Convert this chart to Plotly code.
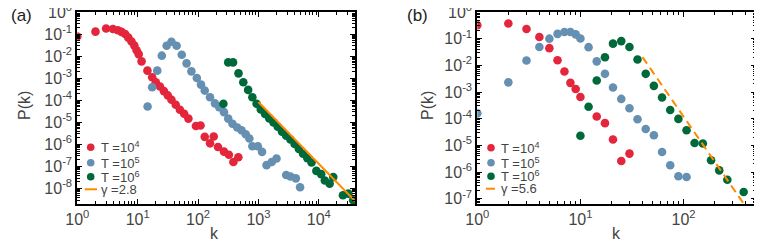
import plotly.graph_objects as go

# page body has an 8px margin, so the figure is sized to fill the rest of the window
OFF = 8
W, H = 762 - OFF, 244 - OFF

# ---------------- data: panel (a) ----------------
a_red_k = [1, 2, 3, 3.9, 4.7, 5.4, 6.2, 7.0, 7.9, 8.8, 9.6, 10.4, 11.6, 14.5, 17.4, 20, 23.4,
           27.2, 31.6, 36.3, 42.7, 50.1, 58.9, 69.2, 92.3, 110, 129, 158, 182, 214, 269, 324, 385, 465]
a_red_p = [0.078, 0.129, 0.178, 0.17, 0.148, 0.126, 0.1, 0.069, 0.046, 0.030, 0.0186, 0.0123,
           5.8e-3, 2.2e-3, 1.1e-3, 6.6e-4, 4.2e-4, 2.6e-4, 1.66e-4, 1.05e-4, 6.3e-5, 3.7e-5,
           2.45e-5, 1.48e-5, 6.8e-6, 7.2e-6, 2.2e-6, 1.12e-6, 2.3e-6, 7.6e-7, 4.7e-7, 3.4e-7, 1.6e-7, 2.6e-7]

a_blue_k = [14.6, 17.4, 21.1, 25.1, 30.2, 36.3, 44.2, 53.7, 64.6, 77.6, 95.5, 112, 129, 158, 191,
            224, 269, 316, 372, 447, 525, 617, 708, 794, 977, 1148, 1365, 1660, 1995, 2884, 3388, 4169, 4898]
a_blue_p = [5.2e-5, 3.9e-4, 2.2e-3, 0.0105, 0.0295, 0.0447, 0.0295, 0.0115, 4.7e-3, 2.04e-3,
            1.02e-3, 5.1e-4, 2.75e-4, 1.38e-4, 7.2e-5, 4.9e-5, 2.9e-5, 1.48e-5, 8.7e-6, 5.8e-6,
            4.4e-6, 2.9e-6, 1.86e-6, 8.3e-7, 8.3e-7, 4.6e-7, 1.15e-7, 1.6e-7, 2.3e-7, 4.1e-8,
            3.5e-8, 2.9e-8, 1.15e-8]

a_green_k = [263, 316, 380, 468, 562, 676, 794, 933, 1096, 1288, 1514, 1778, 2089, 2455, 2884,
             3388, 3981, 4677, 5495, 6457, 7586, 9120, 10960, 12590, 15140, 17380, 25120, 30900, 37150]
a_green_p = [6.9e-5, 5.2e-3, 5.2e-3, 1.66e-3, 6.6e-4, 2.95e-4, 1.38e-4, 6.9e-5, 3.8e-5, 2.4e-5,
             1.51e-5, 1.0e-5, 6.3e-6, 3.8e-6, 2.5e-6, 1.66e-6, 1.05e-6, 6.3e-7, 3.8e-7, 2.4e-7,
             1.51e-7, 6.3e-8, 4.5e-8, 2.3e-8, 1.66e-8, 3.3e-8, 5.0e-9, 5.9e-9, 2.95e-9]

a_fit_gamma = 2.8
a_fit_logc = 4.32
a_fit_k = [1000, 40000]

# ---------------- data: panel (b) ----------------
b_red_k = [1, 2, 3, 4, 5, 6, 7, 8, 9, 10, 14.4, 17.3, 20.7, 24.9, 29.9]
b_red_p = [0.32, 0.37, 0.23, 0.115, 0.044, 0.0155, 5.9e-3, 2.2e-3, 1.29e-3, 6.5e-4,
           1.2e-4, 6.8e-5, 1.66e-5, 2.6e-6, 4.9e-6]

b_blue_k = [1, 2, 3, 4, 5, 6, 7, 8, 9, 10, 12, 14.4, 17.3, 20.7, 24.9, 29.9, 35.8, 43, 51.6,
            61.9, 74.3, 89.2, 107]
b_blue_p = [1.58e-4, 2.3e-3, 0.0151, 0.049, 0.1, 0.151, 0.178, 0.178, 0.145, 0.102, 0.048,
            0.0141, 4.8e-3, 1.48e-3, 5.5e-4, 2.45e-4, 9.5e-5, 4.1e-5, 2.4e-5, 5.6e-6, 1.78e-6,
            6.9e-7, 6.5e-7]

b_green_k = [10, 12, 14.4, 17.3, 20.7, 24.9, 29.9, 35.8, 43, 51.6, 61.9, 74.3, 89.2, 107, 128,
             154, 185, 222, 266, 383]
b_green_p = [2.3e-5, 2.8e-4, 2.7e-3, 0.02, 0.065, 0.081, 0.049, 0.0166, 4.8e-3, 1.7e-3, 6.2e-4,
             2.1e-4, 9.8e-5, 3.7e-5, 1.23e-5, 1.17e-5, 2.75e-6, 1.15e-6, 5.1e-7, 1.78e-7]

b_fit_gamma = 5.6
b_fit_logc = 7.28
b_fit_k = [40, 500]

series_names = ["T =10<sup>4</sup>", "T =10<sup>5</sup>", "T =10<sup>6</sup>"]
fit_names = ["γ =2.8", "γ =5.6"]

a_xtick_vals = [1, 10, 100, 1000, 10000]
a_xtick_text = ["10<sup>0</sup>", "10<sup>1</sup>", "10<sup>2</sup>", "10<sup>3</sup>", "10<sup>4</sup>"]
a_ytick_vals = [1, 1e-1, 1e-2, 1e-3, 1e-4, 1e-5, 1e-6, 1e-7, 1e-8]
a_ytick_text = ["10<sup>0</sup>"] + ["10<sup>-%d</sup>" % i for i in range(1, 9)]
b_xtick_vals = [1, 10, 100]
b_xtick_text = ["10<sup>0</sup>", "10<sup>1</sup>", "10<sup>2</sup>"]
b_ytick_vals = [1, 1e-1, 1e-2, 1e-3, 1e-4, 1e-5, 1e-6, 1e-7]
b_ytick_text = ["10<sup>0</sup>"] + ["10<sup>-%d</sup>" % i for i in range(1, 8)]

# ---------------- styling ----------------
RED = "#e3263b"
BLUE = "#6590b1"
GREEN = "#00693a"
ORANGE = "#ff8a00"
TXT = "#444444"
FONT = "Liberation Sans"
MS = 8.6


def fit_line(ks, logc, gamma):
    return [10 ** logc * k ** (-gamma) for k in ks]


def minor_vals(lo, hi):
    out = []
    for e in range(lo, hi + 1):
        for m in range(2, 10):
            out.append(m * 10.0 ** e)
    return out


fig = go.Figure()

for xa, ya, ks, ps, col in [
    ("x", "y", a_red_k, a_red_p, RED),
    ("x", "y", a_blue_k, a_blue_p, BLUE),
    ("x", "y", a_green_k, a_green_p, GREEN),
    ("x2", "y2", b_red_k, b_red_p, RED),
    ("x2", "y2", b_blue_k, b_blue_p, BLUE),
    ("x2", "y2", b_green_k, b_green_p, GREEN),
]:
    fig.add_trace(go.Scatter(x=ks, y=ps, xaxis=xa, yaxis=ya, mode="markers",
                             marker=dict(color=col, size=MS, line=dict(width=0)),
                             showlegend=False))

fig.add_trace(go.Scatter(x=a_fit_k, y=fit_line(a_fit_k, a_fit_logc, a_fit_gamma),
                         xaxis="x", yaxis="y", mode="lines",
                         line=dict(color=ORANGE, width=2), showlegend=False))
fig.add_trace(go.Scatter(x=b_fit_k, y=fit_line(b_fit_k, b_fit_logc, b_fit_gamma),
                         xaxis="x2", yaxis="y2", mode="lines",
                         line=dict(color=ORANGE, width=2, dash="8px,5px"), showlegend=False))


def px(x):
    return (x - OFF) / W


def py(y):
    return 1 - (y - OFF) / H


ax_common = dict(type="log", showgrid=False, zeroline=False, showline=True, linecolor="black",
                 linewidth=2, mirror="allticks", ticks="inside", ticklen=5, tickwidth=1,
                 tickcolor="black", tickmode="array", automargin=False,
                 ticklabeloverflow="allow",
                 tickfont=dict(family=FONT, size=16, color=TXT))

top, bottom = 12, 204
fig.update_layout(
    template="none",
    width=W, height=H, margin=dict(l=0, r=0, t=0, b=0, pad=0),
    paper_bgcolor="white", plot_bgcolor="white", showlegend=False,
    xaxis=dict(ax_common, domain=[px(77.3), px(355)], range=[0, 4.6],
               tickvals=a_xtick_vals, ticktext=a_xtick_text,
               minor=dict(ticks="inside", ticklen=3, tickwidth=1, tickcolor="black",
                          tickmode="array", tickvals=minor_vals(0, 4), showgrid=False),
               anchor="y"),
    yaxis=dict(ax_common, domain=[py(bottom), py(top)], range=[-8.7, 0],
               tickvals=a_ytick_vals, ticktext=a_ytick_text,
               minor=dict(ticks="inside", ticklen=3, tickwidth=1, tickcolor="black",
                          tickmode="array", tickvals=minor_vals(-9, -1), showgrid=False),
               anchor="x"),
    xaxis2=dict(ax_common, domain=[px(477.3), px(755.7)], range=[0, 2.7],
                tickvals=b_xtick_vals, ticktext=b_xtick_text,
                minor=dict(ticks="inside", ticklen=3, tickwidth=1, tickcolor="black",
                           tickmode="array", tickvals=minor_vals(0, 2), showgrid=False),
                anchor="y2"),
    yaxis2=dict(ax_common, domain=[py(bottom), py(top)], range=[-7.2, 0],
                tickvals=b_ytick_vals, ticktext=b_ytick_text,
                minor=dict(ticks="inside", ticklen=3, tickwidth=1, tickcolor="black",
                           tickmode="array", tickvals=minor_vals(-8, -1), showgrid=False),
                anchor="x2"),
)

# axis titles and panel labels
for txt, x, y, ang in [("k", 214, 233, 0), ("k", 616, 233, 0),
                       ("P(k)", 24, 106, -90), ("P(k)", 427, 106, -90)]:
    fig.add_annotation(text=txt, x=px(x), y=py(y), xref="paper", yref="paper",
                       showarrow=False, xanchor="center", yanchor="middle", textangle=ang,
                       font=dict(family=FONT, size=16, color=TXT))
for txt, x in [("(a)", 8.5), ("(b)", 405)]:
    fig.add_annotation(text=txt, x=px(x), y=py(15), xref="paper", yref="paper",
                       showarrow=False, xanchor="left", yanchor="middle",
                       font=dict(family=FONT, size=17, color="#222222"))

# legends (drawn as shapes + text inside each panel)
shapes = []
for cx, cys, ly, lx0, lx1, tx, fname in [
    (90.7, [147.3, 162.7, 176.7], 189.3, 84.7, 97.0, 98.5, fit_names[0]),
    (491.0, [147.7, 162.7, 176.3], 188.7, 486.0, 495.0, 499.3, fit_names[1]),
]:
    r = 3.8
    for cy, col, name in zip(cys, [RED, BLUE, GREEN], series_names):
        shapes.append(dict(type="circle", xref="paper", yref="paper",
                           x0=px(cx - r), x1=px(cx + r), y0=py(cy + r), y1=py(cy - r),
                           fillcolor=col, line=dict(width=0)))
        fig.add_annotation(text=name, x=px(tx), y=py(cy), xref="paper", yref="paper",
                           showarrow=False, xanchor="left", yanchor="middle",
                           font=dict(family=FONT, size=13, color=TXT))
    shapes.append(dict(type="line", xref="paper", yref="paper",
                       x0=px(lx0), x1=px(lx1), y0=py(ly), y1=py(ly),
                       line=dict(color=ORANGE, width=2)))
    fig.add_annotation(text=fname, x=px(tx), y=py(ly), xref="paper", yref="paper",
                       showarrow=False, xanchor="left", yanchor="middle",
                       font=dict(family=FONT, size=13, color=TXT))
fig.update_layout(shapes=shapes)

fig.write_html("out.html")
